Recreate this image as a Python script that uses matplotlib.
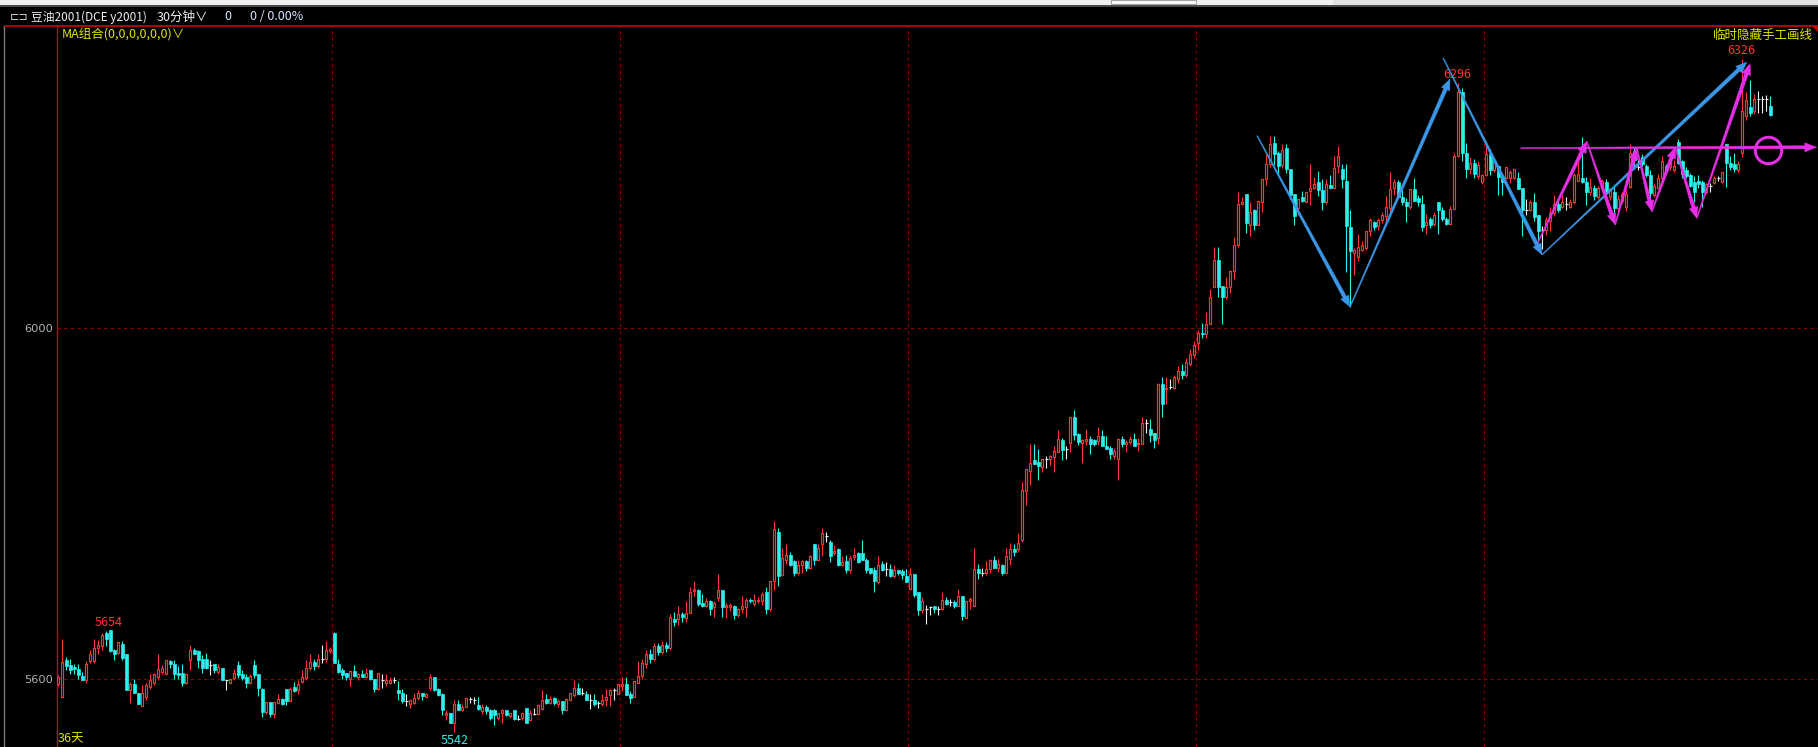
import numpy as np
import matplotlib
matplotlib.use("Agg")
import matplotlib.pyplot as plt
from matplotlib.patches import Polygon, Rectangle
from matplotlib.transforms import IdentityTransform
from matplotlib.ticker import NullLocator, FixedLocator, FixedFormatter

W, H = 1818, 747

# 30-minute candles, DCE soybean oil y2001 (index 0 = first bar on screen)
open_ = [
    5594, 5580, 5621, 5615, 5613, 5611, 5603, 5599, 5620, 5620,  # 0
    5634, 5636, 5651, 5654, 5632, 5629, 5639, 5627, 5588, 5595,  # 10
    5585, 5570, 5580, 5591, 5596, 5602, 5608, 5606, 5620, 5617,  # 20
    5607, 5607, 5596, 5621, 5632, 5631, 5622, 5622, 5615, 5617,  # 30
    5608, 5612, 5599, 5596, 5601, 5615, 5605, 5602, 5596, 5615,  # 40
    5605, 5589, 5564, 5575, 5562, 5574, 5578, 5589, 5576, 5591,  # 50
    5588, 5597, 5601, 5612, 5619, 5614, 5622, 5622, 5631, 5651,  # 60
    5617, 5610, 5607, 5600, 5609, 5602, 5605, 5602, 5610, 5600,  # 70
    5589, 5599, 5596, 5596, 5599, 5588, 5585, 5576, 5572, 5574,  # 80
    5579, 5585, 5580, 5590, 5602, 5589, 5583, 5560, 5563, 5552,  # 90
    5573, 5566, 5569, 5578, 5577, 5571, 5565, 5569, 5566, 5566,  # 100
    5557, 5563, 5566, 5559, 5566, 5556, 5557, 5568, 5555, 5562,  # 110
    5562, 5567, 5578, 5574, 5579, 5572, 5576, 5566, 5577, 5582,  # 120
    5590, 5585, 5583, 5577, 5577, 5574, 5572, 5577, 5582, 5588,  # 130
    5584, 5592, 5595, 5583, 5580, 5596, 5603, 5616, 5628, 5622,  # 140
    5636, 5630, 5638, 5634, 5666, 5666, 5672, 5668, 5673, 5698,  # 150
    5699, 5684, 5681, 5686, 5680, 5690, 5699, 5680, 5680, 5681,  # 160
    5671, 5678, 5680, 5688, 5683, 5686, 5687, 5696, 5677, 5709,  # 170
    5764, 5716, 5732, 5738, 5731, 5718, 5727, 5731, 5723, 5751,  # 180
    5733, 5751, 5760, 5753, 5740, 5745, 5727, 5731, 5721, 5736,  # 190
    5740, 5740, 5733, 5724, 5721, 5708, 5728, 5722, 5722, 5714,  # 200
    5721, 5720, 5715, 5700, 5717, 5696, 5676, 5678, 5680, 5681,  # 210
    5678, 5677, 5688, 5685, 5685, 5681, 5692, 5668, 5686, 5681,  # 220
    5722, 5718, 5718, 5722, 5733, 5724, 5727, 5718, 5734, 5745,  # 230
    5745, 5755, 5811, 5834, 5846, 5844, 5838, 5848, 5847, 5850,  # 240
    5856, 5869, 5859, 5866, 5896, 5876, 5866, 5868, 5870, 5869,  # 250
    5868, 5874, 5862, 5860, 5851, 5848, 5870, 5865, 5867, 5870,  # 260
    5865, 5865, 5889, 5882, 5878, 5872, 5934, 5928, 5931, 5930,  # 270
    5940, 5950, 5945, 5958, 5968, 5982, 5994, 5993, 6005, 6048,  # 280
    6081, 6050, 6037, 6048, 6068, 6099, 6148, 6160, 6123, 6141,  # 290
    6123, 6150, 6178, 6197, 6222, 6210, 6195, 6216, 6190, 6160,  # 300
    6143, 6156, 6150, 6164, 6168, 6175, 6165, 6150, 6171, 6168,  # 310
    6194, 6190, 6176, 6120, 6089, 6084, 6093, 6095, 6115, 6126,  # 320
    6121, 6129, 6134, 6143, 6168, 6175, 6157, 6151, 6144, 6166,  # 330
    6155, 6148, 6123, 6130, 6124, 6150, 6141, 6130, 6124, 6142,  # 340
    6206, 6285, 6210, 6190, 6198, 6182, 6175, 6183, 6209, 6189,  # 350
    6194, 6181, 6179, 6179, 6179, 6179, 6167, 6141, 6141, 6150,  # 360
    6135, 6117, 6117, 6128, 6137, 6148, 6145, 6148, 6145, 6150,  # 370
    6176, 6180, 6175, 6162, 6167, 6156, 6168, 6175, 6156, 6163,  # 380
    6143, 6152, 6145, 6169, 6213, 6193, 6205, 6194, 6183, 6159,  # 390
    6168, 6179, 6194, 6193, 6189, 6223, 6200, 6189, 6183, 6175,  # 400
    6176, 6175, 6162, 6170, 6174, 6179, 6175, 6221, 6198, 6197,  # 410
    6189, 6210, 6255, 6266, 6261, 6276, 6276, 6276, 6268,        # 420
]
high = [
    5604, 5644, 5624, 5622, 5616, 5617, 5608, 5620, 5632, 5644,
    5643, 5651, 5653, 5654, 5633, 5641, 5642, 5627, 5597, 5600,
    5585, 5593, 5596, 5605, 5607, 5627, 5615, 5621, 5621, 5621,
    5614, 5617, 5605, 5637, 5634, 5632, 5626, 5629, 5621, 5617,
    5616, 5612, 5599, 5600, 5611, 5620, 5610, 5605, 5605, 5621,
    5605, 5590, 5575, 5575, 5575, 5583, 5579, 5589, 5591, 5597,
    5599, 5610, 5621, 5627, 5622, 5627, 5637, 5642, 5635, 5652,
    5622, 5612, 5607, 5609, 5615, 5607, 5610, 5612, 5610, 5600,
    5607, 5605, 5605, 5602, 5602, 5598, 5589, 5583, 5577, 5585,
    5588, 5585, 5585, 5605, 5602, 5590, 5585, 5566, 5563, 5577,
    5577, 5573, 5579, 5580, 5580, 5580, 5572, 5571, 5567, 5567,
    5563, 5567, 5566, 5563, 5566, 5561, 5563, 5568, 5566, 5568,
    5573, 5588, 5583, 5581, 5580, 5578, 5576, 5579, 5585, 5599,
    5596, 5590, 5587, 5583, 5583, 5576, 5583, 5589, 5589, 5590,
    5595, 5602, 5602, 5587, 5598, 5620, 5622, 5632, 5633, 5640,
    5640, 5642, 5641, 5672, 5674, 5681, 5674, 5687, 5702, 5709,
    5700, 5694, 5690, 5688, 5687, 5717, 5699, 5684, 5684, 5682,
    5679, 5692, 5690, 5690, 5694, 5691, 5697, 5702, 5709, 5777,
    5769, 5746, 5751, 5741, 5733, 5733, 5732, 5733, 5738, 5751,
    5751, 5769, 5764, 5755, 5749, 5746, 5737, 5738, 5738, 5746,
    5741, 5755, 5735, 5724, 5725, 5737, 5731, 5730, 5728, 5727,
    5721, 5722, 5722, 5724, 5717, 5697, 5691, 5682, 5681, 5681,
    5681, 5696, 5691, 5689, 5688, 5700, 5692, 5686, 5691, 5746,
    5728, 5724, 5731, 5734, 5737, 5734, 5728, 5746, 5752, 5751,
    5763, 5821, 5836, 5865, 5865, 5859, 5848, 5851, 5852, 5862,
    5881, 5872, 5862, 5896, 5904, 5878, 5870, 5882, 5874, 5870,
    5884, 5881, 5874, 5862, 5860, 5872, 5874, 5869, 5874, 5878,
    5872, 5896, 5894, 5894, 5878, 5936, 5942, 5942, 5940, 5945,
    5955, 5958, 5965, 5975, 5985, 5998, 6006, 6019, 6046, 6096,
    6096, 6050, 6061, 6069, 6108, 6163, 6157, 6160, 6151, 6142,
    6152, 6178, 6209, 6231, 6231, 6213, 6221, 6221, 6190, 6160,
    6154, 6164, 6163, 6197, 6181, 6188, 6178, 6178, 6183, 6206,
    6219, 6197, 6197, 6141, 6095, 6112, 6103, 6116, 6131, 6128,
    6131, 6138, 6158, 6187, 6178, 6177, 6166, 6155, 6166, 6180,
    6159, 6159, 6136, 6132, 6138, 6151, 6144, 6132, 6146, 6210,
    6296, 6290, 6222, 6205, 6203, 6200, 6185, 6219, 6215, 6202,
    6194, 6185, 6193, 6189, 6191, 6187, 6167, 6154, 6153, 6161,
    6135, 6122, 6132, 6145, 6159, 6154, 6159, 6156, 6154, 6186,
    6200, 6229, 6181, 6180, 6171, 6170, 6178, 6178, 6168, 6169,
    6159, 6162, 6165, 6221, 6217, 6202, 6209, 6197, 6189, 6173,
    6185, 6206, 6197, 6202, 6202, 6227, 6202, 6193, 6186, 6182,
    6183, 6177, 6174, 6174, 6182, 6182, 6187, 6221, 6206, 6210,
    6200, 6326, 6285, 6300, 6282, 6286, 6280, 6281, 6280,
]
low = [
    5592, 5580, 5610, 5606, 5606, 5600, 5599, 5596, 5618, 5618,
    5627, 5632, 5636, 5630, 5621, 5627, 5621, 5588, 5574, 5585,
    5572, 5570, 5577, 5589, 5593, 5599, 5606, 5606, 5612, 5600,
    5600, 5592, 5594, 5610, 5627, 5612, 5607, 5611, 5604, 5607,
    5606, 5599, 5588, 5596, 5599, 5601, 5599, 5590, 5595, 5601,
    5581, 5558, 5562, 5558, 5557, 5573, 5571, 5571, 5576, 5586,
    5584, 5596, 5599, 5610, 5610, 5612, 5618, 5619, 5629, 5618,
    5607, 5600, 5599, 5592, 5602, 5599, 5602, 5601, 5599, 5586,
    5588, 5590, 5592, 5594, 5596, 5577, 5574, 5570, 5568, 5572,
    5577, 5577, 5580, 5588, 5587, 5581, 5561, 5555, 5552, 5542,
    5566, 5565, 5569, 5574, 5572, 5566, 5562, 5562, 5555, 5550,
    5555, 5552, 5559, 5557, 5555, 5555, 5555, 5552, 5555, 5560,
    5561, 5566, 5572, 5572, 5571, 5569, 5562, 5565, 5577, 5580,
    5583, 5582, 5577, 5567, 5570, 5568, 5570, 5570, 5570, 5577,
    5584, 5587, 5582, 5574, 5580, 5596, 5600, 5612, 5618, 5620,
    5626, 5628, 5630, 5632, 5659, 5660, 5663, 5663, 5673, 5692,
    5681, 5680, 5680, 5671, 5669, 5687, 5669, 5668, 5675, 5666,
    5669, 5673, 5669, 5684, 5681, 5684, 5682, 5672, 5675, 5699,
    5703, 5716, 5728, 5726, 5714, 5716, 5718, 5720, 5722, 5727,
    5732, 5737, 5753, 5730, 5738, 5726, 5726, 5718, 5718, 5732,
    5729, 5732, 5718, 5717, 5696, 5706, 5720, 5714, 5713, 5712,
    5716, 5711, 5708, 5699, 5691, 5671, 5673, 5661, 5671, 5673,
    5671, 5676, 5682, 5681, 5679, 5681, 5665, 5668, 5678, 5681,
    5711, 5714, 5716, 5718, 5723, 5719, 5716, 5718, 5727, 5737,
    5742, 5753, 5795, 5818, 5842, 5823, 5832, 5837, 5841, 5832,
    5855, 5846, 5847, 5856, 5869, 5864, 5843, 5864, 5853, 5862,
    5864, 5862, 5859, 5847, 5848, 5823, 5861, 5856, 5865, 5862,
    5857, 5865, 5878, 5867, 5860, 5865, 5896, 5911, 5928, 5928,
    5935, 5940, 5942, 5955, 5965, 5974, 5988, 5988, 6005, 6048,
    6037, 6005, 6034, 6042, 6058, 6096, 6147, 6113, 6109, 6117,
    6123, 6138, 6171, 6193, 6195, 6184, 6192, 6186, 6154, 6123,
    6135, 6150, 6150, 6147, 6166, 6158, 6141, 6148, 6168, 6168,
    6186, 6168, 6067, 6025, 6063, 6080, 6092, 6093, 6109, 6117,
    6117, 6125, 6128, 6139, 6159, 6155, 6147, 6126, 6142, 6152,
    6146, 6116, 6112, 6119, 6121, 6112, 6128, 6123, 6124, 6142,
    6205, 6200, 6180, 6185, 6180, 6178, 6172, 6182, 6183, 6187,
    6159, 6159, 6178, 6174, 6178, 6166, 6110, 6135, 6140, 6128,
    6102, 6094, 6111, 6116, 6133, 6139, 6143, 6141, 6143, 6148,
    6176, 6174, 6147, 6159, 6153, 6154, 6164, 6153, 6153, 6137,
    6139, 6149, 6140, 6168, 6190, 6189, 6194, 6181, 6153, 6157,
    6167, 6177, 6185, 6189, 6187, 6197, 6179, 6179, 6169, 6150,
    6167, 6145, 6160, 6163, 6172, 6176, 6174, 6169, 6189, 6187,
    6187, 6205, 6250, 6255, 6258, 6259, 6259, 6262, 6255,
]
close = [
    5602, 5619, 5614, 5610, 5611, 5604, 5599, 5617, 5627, 5634,
    5637, 5649, 5644, 5631, 5628, 5641, 5623, 5588, 5595, 5585,
    5572, 5585, 5593, 5599, 5605, 5611, 5612, 5621, 5616, 5606,
    5604, 5596, 5605, 5632, 5628, 5621, 5612, 5612, 5615, 5610,
    5613, 5599, 5599, 5600, 5607, 5604, 5601, 5596, 5603, 5604,
    5590, 5564, 5575, 5562, 5575, 5578, 5572, 5576, 5589, 5587,
    5595, 5602, 5612, 5619, 5614, 5622, 5622, 5632, 5633, 5618,
    5608, 5604, 5602, 5609, 5603, 5605, 5602, 5607, 5600, 5589,
    5607, 5599, 5599, 5599, 5599, 5585, 5576, 5576, 5577, 5579,
    5585, 5581, 5583, 5602, 5588, 5582, 5566, 5563, 5552, 5573,
    5566, 5569, 5579, 5578, 5577, 5567, 5569, 5565, 5557, 5560,
    5563, 5566, 5561, 5563, 5556, 5556, 5563, 5552, 5563, 5562,
    5571, 5577, 5574, 5578, 5574, 5576, 5566, 5578, 5585, 5590,
    5584, 5585, 5577, 5577, 5572, 5574, 5577, 5580, 5588, 5588,
    5595, 5595, 5582, 5579, 5598, 5603, 5618, 5628, 5622, 5636,
    5630, 5638, 5634, 5669, 5663, 5672, 5669, 5673, 5697, 5700,
    5683, 5681, 5686, 5678, 5684, 5699, 5680, 5682, 5682, 5671,
    5678, 5681, 5688, 5686, 5688, 5688, 5694, 5678, 5709, 5767,
    5714, 5735, 5738, 5727, 5718, 5727, 5731, 5723, 5737, 5733,
    5746, 5763, 5760, 5737, 5743, 5727, 5730, 5721, 5735, 5738,
    5730, 5733, 5721, 5718, 5709, 5727, 5721, 5722, 5714, 5721,
    5718, 5716, 5708, 5717, 5693, 5676, 5686, 5678, 5680, 5677,
    5678, 5688, 5683, 5685, 5681, 5692, 5670, 5686, 5689, 5722,
    5718, 5718, 5722, 5733, 5724, 5728, 5718, 5737, 5745, 5742,
    5752, 5812, 5836, 5843, 5842, 5839, 5848, 5848, 5851, 5857,
    5870, 5858, 5859, 5896, 5875, 5867, 5869, 5870, 5865, 5865,
    5874, 5862, 5859, 5853, 5857, 5870, 5865, 5867, 5870, 5862,
    5866, 5889, 5889, 5875, 5869, 5934, 5911, 5930, 5931, 5942,
    5950, 5945, 5960, 5970, 5980, 5994, 5993, 6005, 6037, 6081,
    6048, 6037, 6048, 6068, 6099, 6148, 6151, 6125, 6138, 6123,
    6152, 6178, 6197, 6221, 6209, 6194, 6214, 6190, 6159, 6134,
    6154, 6152, 6163, 6168, 6172, 6165, 6150, 6172, 6168, 6192,
    6206, 6178, 6121, 6092, 6093, 6096, 6099, 6115, 6129, 6120,
    6129, 6135, 6144, 6166, 6175, 6157, 6150, 6146, 6166, 6152,
    6150, 6120, 6126, 6123, 6135, 6141, 6130, 6124, 6142, 6206,
    6285, 6210, 6190, 6198, 6185, 6195, 6183, 6209, 6189, 6200,
    6181, 6175, 6193, 6187, 6190, 6166, 6141, 6141, 6150, 6132,
    6115, 6117, 6129, 6137, 6148, 6141, 6150, 6148, 6151, 6183,
    6185, 6175, 6162, 6169, 6158, 6168, 6176, 6162, 6166, 6143,
    6154, 6160, 6160, 6210, 6202, 6193, 6197, 6183, 6161, 6170,
    6180, 6200, 6189, 6200, 6194, 6198, 6185, 6182, 6170, 6163,
    6172, 6162, 6172, 6170, 6179, 6179, 6187, 6198, 6193, 6191,
    6197, 6262, 6275, 6259, 6276, 6276, 6276, 6276, 6257,
]
assert len(open_) == len(high) == len(low) == len(close)

y_ticks = [5600, 6000]
day_breaks = [68.5, 140.5, 212.5, 284.5, 356.5]

# hand-drawn lines (bar index, price)
blue1_x, blue1_y = [299.7, 322.9, 347.9], [6231, 6025, 6301]
blue2_x, blue2_y = [346.2, 370.9, 422.1], [6327, 6087, 6322]
pink_x = [369.9, 382.1, 389.2, 394.6, 398.4, 404.2, 409.6, 422.9]
pink_y = [6102, 6224, 6123, 6216, 6139, 6217, 6131, 6320]
neck_x, neck_y = [365.6, 439.6], [6216, 6217]
ring_x, ring_y = 427.3, 6214

RED = '#ff3434'
CYAN = '#2eeeee'
WHITE = '#f0f0f0'
BLUE = '#3a96e6'
PINK = '#e62ee6'
GRID = '#8c0000'
AXIS = '#d00000'
YELLOW = '#e2e200'
CJK = ['Noto Sans CJK SC', 'DejaVu Sans']

fig = plt.figure(figsize=(W / 100, H / 100), dpi=100, facecolor='black')
ax = fig.add_axes([57 / W, 0, 1 - 57 / W, 1 - 26 / H])
ax.set_facecolor('black')
ax.set_yscale('log')
ax.set_ylim(5525.6, 6367)
ax.set_xlim(-0.33, 439.9)

# grid
for p in y_ticks:
    ax.axhline(p, color=GRID, lw=0.8, ls=(0, (3, 3)), zorder=0)
for b in day_breaks:
    ax.axvline(b, color=GRID, lw=0.8, ls=(0, (3, 3)), zorder=0)

# candles
x = np.arange(len(close))
o, h, l, c = map(np.array, (open_, high, low, close))
up = c > o
dn = c < o
eq = c == o
ax.vlines(x[up], l[up], h[up], color=RED, lw=0.8, zorder=2)
ax.vlines(x[dn], l[dn], h[dn], color=CYAN, lw=0.8, zorder=2)
ax.vlines(x[eq], l[eq], h[eq], color=WHITE, lw=0.8, zorder=2)
ax.bar(x[up], c[up] - o[up], bottom=o[up], width=0.55, facecolor='black',
       edgecolor=RED, linewidth=0.85, zorder=3)
ax.bar(x[dn], o[dn] - c[dn], bottom=c[dn], width=0.72, facecolor=CYAN,
       edgecolor=CYAN, linewidth=0.5, zorder=3)
ax.hlines(c[eq], x[eq] - 0.45, x[eq] + 0.45, color=WHITE, lw=0.8, zorder=3)

# axes look
for s in ['right', 'bottom', 'top']:
    ax.spines[s].set_visible(False)
ax.spines['left'].set_color(AXIS)
ax.spines['left'].set_linewidth(1.0)
ax.yaxis.set_minor_locator(NullLocator())
ax.yaxis.set_major_locator(FixedLocator(y_ticks))
ax.yaxis.set_major_formatter(FixedFormatter([str(t) for t in y_ticks]))
ax.tick_params(axis='y', length=0, pad=3, labelcolor='#b0b0b0', labelsize=8.2)
ax.set_xticks([])


def tapered(x0, y0, x1, y1, w0, w1, color, hl=11, hw=9):
    a, b = ax.transData.transform([(x0, y0), (x1, y1)])
    d = b - a
    u = d / np.hypot(*d)
    n = np.array([-u[1], u[0]])
    end = b - u * hl * 0.7
    shaft = [a + n * w0 / 2, end + n * w1 / 2, end - n * w1 / 2, a - n * w0 / 2]
    head = [b, b - u * hl + n * hw / 2, b - u * hl - n * hw / 2]
    for pts in (shaft, head):
        fig.add_artist(Polygon(pts, closed=True, facecolor=color, edgecolor=color,
                               lw=0.3, transform=IdentityTransform(), zorder=6))


for xs, ys, col in [(blue1_x, blue1_y, BLUE), (blue2_x, blue2_y, BLUE), (pink_x, pink_y, PINK)]:
    for k in range(len(xs) - 1):
        tapered(xs[k], ys[k], xs[k + 1], ys[k + 1], 0.9, 3.8, col)
tapered(neck_x[0], neck_y[0], neck_x[1], neck_y[1], 0.9, 3.2, PINK, hl=12, hw=9)
ax.plot([ring_x], [ring_y], marker='o', ms=19, mfc='none', mec=PINK, mew=2.2, zorder=6)


def fx(px):
    return px / W


def fy(py):
    return 1 - py / H


# window chrome on top
fig.add_artist(Rectangle((0, fy(5)), fx(1333), 5 / H, transform=fig.transFigure,
                         facecolor='#f0f0f0', edgecolor='none'))
fig.add_artist(Rectangle((fx(1333), fy(5)), 1 - fx(1333), 5 / H, transform=fig.transFigure,
                         facecolor='#e2e2e2', edgecolor='none'))
fig.add_artist(Rectangle((fx(1111), fy(4)), fx(85), 4 / H, transform=fig.transFigure,
                         facecolor='#fbfbfb', edgecolor='#a8a8a8', lw=0.8))
fig.add_artist(plt.Line2D([0, 1], [fy(5.5), fy(5.5)], transform=fig.transFigure,
                          color='#5a5a5a', lw=1.2))
fig.add_artist(plt.Line2D([fx(6), 1], [fy(26), fy(26)], transform=fig.transFigure,
                          color=AXIS, lw=1.2))
fig.add_artist(plt.Line2D([fx(4), fx(4)], [0, fy(26)], transform=fig.transFigure,
                          color='#7a7a7a', lw=1.0))
fig.add_artist(Polygon([(fx(1812), fy(26)), (1, fy(26)), (1, fy(32))], closed=True,
                       transform=fig.transFigure, facecolor=AXIS, edgecolor='none'))

# header texts
fig.text(fx(10), fy(17), '⊏⊐', color='#d8d8d8', fontsize=8, va='center', family=CJK)
fig.text(fx(31), fy(17), '豆油2001(DCE y2001)', color='#f0f0f0', fontsize=8.5,
         va='center', family=CJK)
fig.text(fx(157), fy(17), '30分钟∨', color='#f0f0f0', fontsize=9, va='center', family=CJK)
fig.text(fx(228), fy(17), '0', color='#d8e4ff', fontsize=9, va='center', ha='center', family=CJK)
fig.text(fx(250), fy(17), '0 / 0.00%', color='#d8e4ff', fontsize=9, va='center', family=CJK)
fig.text(fx(62), fy(35), 'MA组合(0,0,0,0,0,0)∨', color=YELLOW, fontsize=9,
         va='center', family=CJK)
fig.text(fx(1813), fy(35), '临时隐藏手工画线', color=YELLOW, fontsize=9,
         va='center', ha='right', family=CJK)

# extreme labels
fig.text(fx(1741), fy(50.5), '6326', color=RED, fontsize=9, va='center', ha='center', family=CJK)
fig.text(fx(1457), fy(74), '6296', color=RED, fontsize=9, va='center', ha='center', family=CJK)
fig.text(fx(109), fy(622), '5654', color=RED, fontsize=9, va='center', ha='center', family=CJK)
fig.text(fx(455), fy(740), '5542', color=CYAN, fontsize=9, va='center', ha='center', family=CJK)
fig.text(fx(58), fy(739), '36天', color=YELLOW, fontsize=9, va='center', family=CJK)

fig.savefig('out.png', dpi=100, facecolor='black')
